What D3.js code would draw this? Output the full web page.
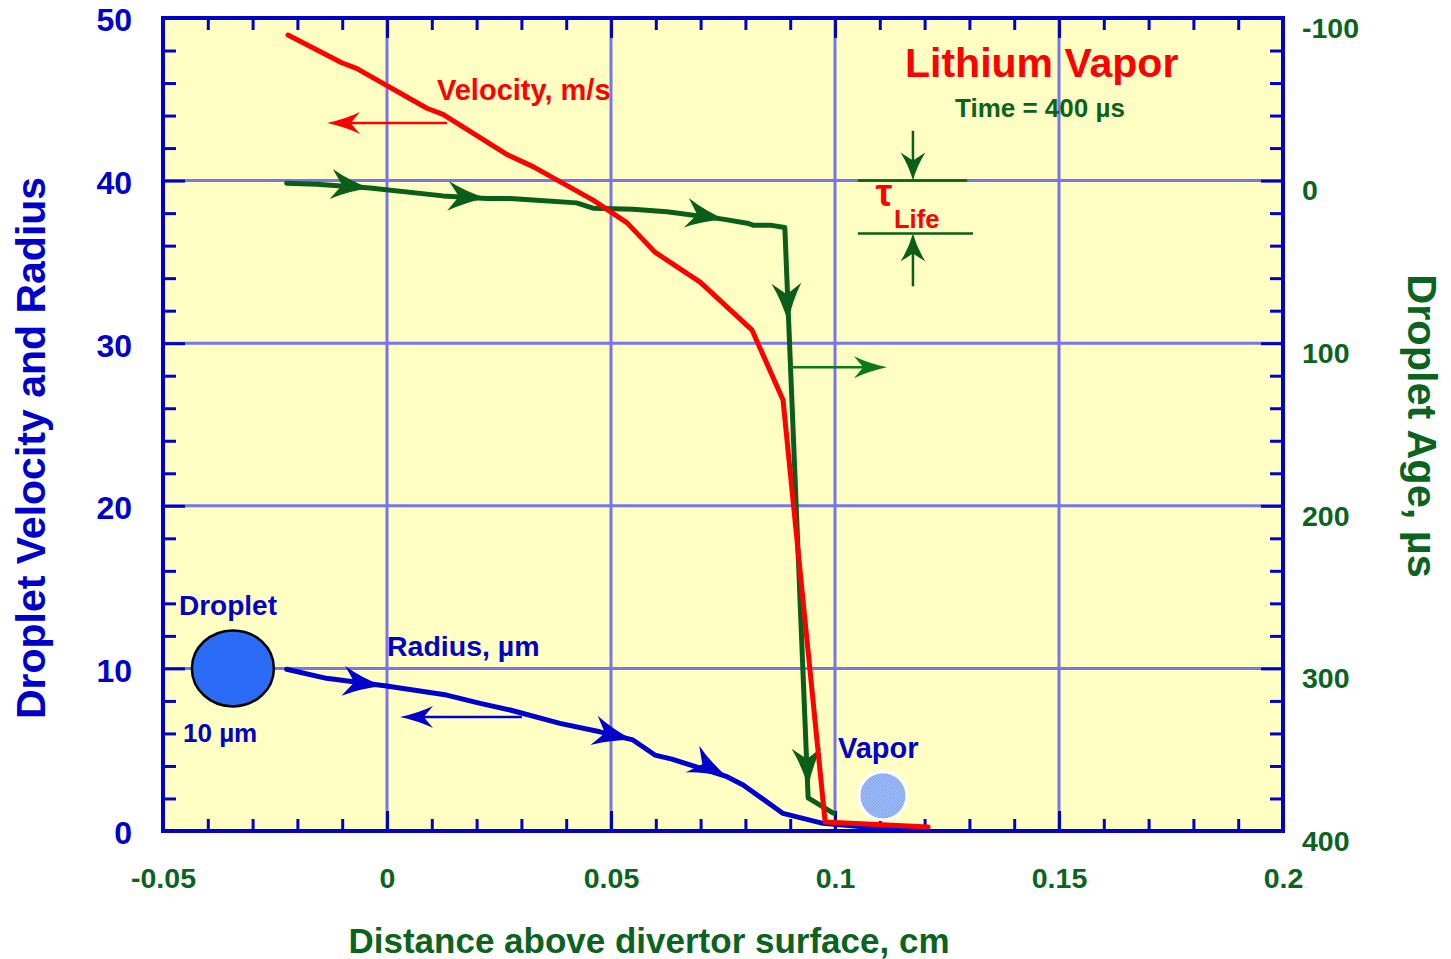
<!DOCTYPE html>
<html>
<head>
<meta charset="utf-8">
<script src="https://cdn.jsdelivr.net/npm/d3@7"></script>
<style>
  html, body { margin: 0; padding: 0; background: #ffffff; }
  svg { display: block; }
  text { font-family: "Liberation Sans", Arial, Helvetica, sans-serif; font-weight: bold; }
</style>
</head>
<body>
<svg id="chart" width="1451" height="959"></svg>
<script>
// ---------------- DATA ----------------
const xTickValues = [-0.05, 0, 0.05, 0.1, 0.15, 0.2];
const xTickLabels = ["-0.05", "0", "0.05", "0.1", "0.15", "0.2"];
const leftTickValues = [0, 10, 20, 30, 40, 50];
const rightTickValues = [-100, 0, 100, 200, 300, 400];

// Velocity, m/s (left axis)
const velX = [-0.0221, -0.0101, -0.0068, 0.0089, 0.0125, 0.027, 0.0326, 0.046, 0.0536, 0.0598, 0.0699, 0.0815, 0.0884, 0.0978, 0.1208];
const velY = [48.95, 47.25, 46.9, 44.45, 44.07, 41.57, 40.86, 38.8, 37.4, 35.6, 33.76, 30.8, 26.5, 0.55, 0.25];

// Droplet age, µs (right axis)
const ageX = [-0.0224, -0.0157, -0.0038, 0.0125, 0.0223, 0.0275, 0.0326, 0.0423, 0.046, 0.0549, 0.0625, 0.075, 0.0804, 0.0817, 0.0855, 0.0888, 0.094, 0.0996];
const ageY = [1.6, 2.2, 4.5, 9.4, 11, 11, 12, 13.7, 17, 17.6, 19.2, 23.7, 26.2, 27.4, 27.4, 28.9, 379.6, 389];

// Radius, µm (left axis)
const radX = [-0.0224, -0.0135, -0.0001, 0.0133, 0.0208, 0.0275, 0.0386, 0.0475, 0.0549, 0.0598, 0.0636, 0.0759, 0.0795, 0.0884, 0.0973, 0.11, 0.119];
const radY = [9.95, 9.39, 8.92, 8.36, 7.85, 7.44, 6.62, 6.1, 5.6, 4.67, 4.42, 3.34, 2.83, 1.08, 0.47, 0.17, 0.1];

// direction arrows placed on the curves (tip positions, data units)
const ageArrowX = [-0.0038, 0.0223, 0.0754, 0.0895, 0.094];
const ageArrowY = [4.7, 10.8, 23.7, 87.1, 373];
const radArrowX = [-0.0009, 0.0549, 0.0761];
const radArrowY = [8.92, 5.6, 3.3];

// ---------------- SETUP ----------------
const svg = d3.select("#chart");
const L = 163, R = 1283, T = 18, B = 831;
const x = d3.scaleLinear().domain([-0.05, 0.2]).range([L, R]);
const y = d3.scaleLinear().domain([0, 50]).range([B, T]);
const y2 = d3.scaleLinear().domain([-100, 400]).range([T, B]);

const AXIS_BLUE = "#0000cc";
const GRID = "#7676ee";
const RED = "#ff0000";
const DKGREEN = "#0a5e1a";
const TXTGREEN = "#0b6320";
const BLUE = "#0000cc";

const defs = svg.append("defs");
const pat = defs.append("pattern").attr("id", "vaporPat").attr("width", 3).attr("height", 3)
  .attr("patternUnits", "userSpaceOnUse");
pat.append("rect").attr("width", 3).attr("height", 3).attr("fill", "#7ea3f2");
pat.append("rect").attr("width", 1.5).attr("height", 1.5).attr("fill", "#a8c2f8");
pat.append("rect").attr("x", 1.5).attr("y", 1.5).attr("width", 1.5).attr("height", 1.5).attr("fill", "#a8c2f8");

// plot background
svg.append("rect").attr("x", L).attr("y", T).attr("width", R - L).attr("height", B - T).attr("fill", "#ffffc3");

// grid
const grid = svg.append("g");
grid.selectAll("line.vx").data(xTickValues.slice(1, -1)).join("line")
  .attr("x1", d => x(d)).attr("x2", d => x(d)).attr("y1", T).attr("y2", B)
  .attr("stroke", GRID).attr("stroke-width", 3);
grid.selectAll("line.hy").data(leftTickValues.slice(1, -1)).join("line")
  .attr("x1", L).attr("x2", R).attr("y1", d => y(d)).attr("y2", d => y(d))
  .attr("stroke", GRID).attr("stroke-width", 3);

// axes helpers
function minorVals(ticks, n) {
  const out = [];
  for (let i = 0; i < ticks.length - 1; i++) {
    const a = ticks[i], b = ticks[i + 1];
    for (let k = 1; k < n; k++) out.push(a + (b - a) * k / n);
  }
  return out;
}
function styleAxis(g) {
  g.select(".domain").remove();
  g.selectAll(".tick line").attr("stroke", AXIS_BLUE).attr("stroke-width", 3);
}

// bottom
svg.append("g").attr("transform", `translate(0,${B})`)
  .call(d3.axisBottom(x).tickValues(minorVals(xTickValues, 5)).tickSize(-12).tickFormat(""))
  .call(styleAxis);
svg.append("g").attr("transform", `translate(0,${B})`)
  .call(d3.axisBottom(x).tickValues(xTickValues).tickSize(-20).tickPadding(37)
    .tickFormat((d, i) => xTickLabels[i]))
  .call(styleAxis)
  .call(g => g.selectAll("text").attr("fill", TXTGREEN).attr("font-size", 28.5));
// top
svg.append("g").attr("transform", `translate(0,${T})`)
  .call(d3.axisTop(x).tickValues(minorVals(xTickValues, 5)).tickSize(-12).tickFormat(""))
  .call(styleAxis);
svg.append("g").attr("transform", `translate(0,${T})`)
  .call(d3.axisTop(x).tickValues(xTickValues).tickSize(-20).tickFormat(""))
  .call(styleAxis);
// left
svg.append("g").attr("transform", `translate(${L},0)`)
  .call(d3.axisLeft(y).tickValues(minorVals(leftTickValues, 5)).tickSize(-13).tickFormat(""))
  .call(styleAxis);
svg.append("g").attr("transform", `translate(${L},0)`)
  .call(d3.axisLeft(y).tickValues(leftTickValues).tickSize(-22).tickPadding(31).tickFormat(d => String(d)))
  .call(styleAxis)
  .call(g => g.selectAll("text").attr("fill", BLUE).attr("font-size", 32).attr("dy", "0.4em"));
// right
svg.append("g").attr("transform", `translate(${R},0)`)
  .call(d3.axisRight(y2).tickValues(minorVals(rightTickValues, 5)).tickSize(-13).tickFormat(""))
  .call(styleAxis);
svg.append("g").attr("transform", `translate(${R},0)`)
  .call(d3.axisRight(y2).tickValues(rightTickValues).tickSize(-22).tickPadding(19).tickFormat(d => String(d)))
  .call(styleAxis)
  .call(g => g.selectAll("text").attr("fill", TXTGREEN).attr("font-size", 28.5).attr("dy", "0.68em"));

// frame
svg.append("rect").attr("x", L).attr("y", T).attr("width", R - L).attr("height", B - T)
  .attr("fill", "none").attr("stroke", AXIS_BLUE).attr("stroke-width", 4);

// axis titles
svg.append("text").attr("transform", `translate(45,448) rotate(-90)`).attr("text-anchor", "middle")
  .attr("fill", BLUE).attr("font-size", 41).text("Droplet Velocity and Radius");
svg.append("text").attr("transform", `translate(1408,426) rotate(90)`).attr("text-anchor", "middle")
  .attr("fill", TXTGREEN).attr("font-size", 41.5).text("Droplet Age, µs");
svg.append("text").attr("x", 649).attr("y", 953).attr("text-anchor", "middle")
  .attr("fill", TXTGREEN).attr("font-size", 35).text("Distance above divertor surface, cm");

// ---------------- SERIES ----------------
const velData = velX.map((v, i) => [v, velY[i]]);
const ageData = ageX.map((v, i) => [v, ageY[i]]);
const radData = radX.map((v, i) => [v, radY[i]]);

const lineL = d3.line().x(d => x(d[0])).y(d => y(d[1]));
const lineR = d3.line().x(d => x(d[0])).y(d => y2(d[1]));

function arrowPath(tip, dir, len, hw, notchFrac) {
  const n = [-dir[1], dir[0]];
  const back = [tip[0] - dir[0] * len, tip[1] - dir[1] * len];
  const notch = [tip[0] - dir[0] * len * notchFrac, tip[1] - dir[1] * len * notchFrac];
  const p1 = [back[0] + n[0] * hw, back[1] + n[1] * hw];
  const p2 = [back[0] - n[0] * hw, back[1] - n[1] * hw];
  // slightly concave flanks
  const c1 = [tip[0] - dir[0] * len * 0.55 + n[0] * hw * 0.35, tip[1] - dir[1] * len * 0.55 + n[1] * hw * 0.35];
  const c2 = [tip[0] - dir[0] * len * 0.55 - n[0] * hw * 0.35, tip[1] - dir[1] * len * 0.55 - n[1] * hw * 0.35];
  return `M${tip[0]},${tip[1]}Q${c1[0]},${c1[1]} ${p1[0]},${p1[1]}L${notch[0]},${notch[1]}L${p2[0]},${p2[1]}Q${c2[0]},${c2[1]} ${tip[0]},${tip[1]}Z`;
}
function dirOnCurve(pts, p) {
  let best = null, bd = Infinity;
  for (let i = 0; i < pts.length - 1; i++) {
    const a = pts[i], b = pts[i + 1];
    const vx = b[0] - a[0], vy = b[1] - a[1];
    const l2 = vx * vx + vy * vy;
    let t = ((p[0] - a[0]) * vx + (p[1] - a[1]) * vy) / l2;
    t = Math.max(0, Math.min(1, t));
    const qx = a[0] + t * vx, qy = a[1] + t * vy;
    const d = (qx - p[0]) ** 2 + (qy - p[1]) ** 2;
    if (d < bd) { bd = d; const l = Math.sqrt(l2); best = [vx / l, vy / l]; }
  }
  return best;
}

// radius (blue)
svg.append("path").attr("d", lineL(radData)).attr("fill", "none").attr("stroke", BLUE)
  .attr("stroke-width", 5).attr("stroke-linejoin", "round").attr("stroke-linecap", "round");
const radPx = radData.map(d => [x(d[0]), y(d[1])]);
svg.selectAll("path.radArrow").data(radArrowX).join("path")
  .attr("d", (d, i) => { const tip = [x(d), y(radArrowY[i])]; return arrowPath(tip, dirOnCurve(radPx, tip), 40, 15, 0.72); })
  .attr("fill", BLUE);

// age (green)
svg.append("path").attr("d", lineR(ageData)).attr("fill", "none").attr("stroke", DKGREEN)
  .attr("stroke-width", 5).attr("stroke-linejoin", "round").attr("stroke-linecap", "round");
const agePx = ageData.map(d => [x(d[0]), y2(d[1])]);
svg.selectAll("path.ageArrow").data(ageArrowX).join("path")
  .attr("d", (d, i) => { const tip = [x(d), y2(ageArrowY[i])]; return arrowPath(tip, dirOnCurve(agePx, tip), 39, 15, 0.72); })
  .attr("fill", DKGREEN);

// velocity (red)
svg.append("path").attr("d", lineL(velData)).attr("fill", "none").attr("stroke", RED)
  .attr("stroke-width", 5).attr("stroke-linejoin", "round").attr("stroke-linecap", "round");

// ---------------- ANNOTATIONS ----------------
function pointer(x1, y1, x2, y2, color, w, len, hw) {
  svg.append("line").attr("x1", x1).attr("y1", y1).attr("x2", x2 - Math.sign(x2 - x1) * len * 0.5).attr("y2", y2 - Math.sign(y2 - y1) * len * 0.5)
    .attr("stroke", color).attr("stroke-width", w);
  const dx = x2 - x1, dy = y2 - y1, l = Math.hypot(dx, dy);
  svg.append("path").attr("d", arrowPath([x2, y2], [dx / l, dy / l], len, hw, 0.72)).attr("fill", color);
}
// Velocity pointer (to left axis)
pointer(x(0.0134), y(43.54), x(-0.0134), y(43.54), RED, 2.5, 33, 11);
// Radius pointer
pointer(x(0.0301), y(7.01), x(0.0029), y(7.01), BLUE, 2.5, 33, 11);
// Age pointer (to right axis)
pointer(x(0.09), y2(114.8), x(0.1116), y2(114.8), "#0a7a1a", 2.5, 33, 11);

// tau life
svg.append("line").attr("x1", x(0.1051)).attr("x2", x(0.1295)).attr("y1", y2(0)).attr("y2", y2(0))
  .attr("stroke", DKGREEN).attr("stroke-width", 2.5);
svg.append("line").attr("x1", x(0.1051)).attr("x2", x(0.1308)).attr("y1", y2(32.5)).attr("y2", y2(32.5))
  .attr("stroke", DKGREEN).attr("stroke-width", 2.5);
pointer(x(0.1174), y2(-30.6), x(0.1174), y2(0), DKGREEN, 2.5, 28, 12.5);
pointer(x(0.1174), y2(65), x(0.1174), y2(32.5), DKGREEN, 2.5, 28, 12.5);
svg.append("text").attr("x", 884).attr("y", 206).attr("text-anchor", "middle").attr("fill", RED)
  .attr("font-size", 38).attr("font-weight", "normal").attr("font-family", "DejaVu Serif").text("τ");
svg.append("text").attr("x", 894).attr("y", 228).attr("fill", RED).attr("font-size", 25.5).text("Life");

// labels
svg.append("text").attr("x", 905).attr("y", 77).attr("fill", RED).attr("font-size", 41).text("Lithium Vapor");
svg.append("text").attr("x", 955).attr("y", 117).attr("fill", TXTGREEN).attr("font-size", 26).text("Time = 400 µs");
svg.append("text").attr("x", 437).attr("y", 100).attr("fill", RED).attr("font-size", 29).text("Velocity, m/s");
svg.append("text").attr("x", 387).attr("y", 656).attr("fill", BLUE).attr("font-size", 28.5).text("Radius, µm");
svg.append("text").attr("x", 179).attr("y", 615).attr("fill", BLUE).attr("font-size", 28).text("Droplet");
svg.append("text").attr("x", 183).attr("y", 742).attr("fill", BLUE).attr("font-size", 26).text("10 µm");
svg.append("text").attr("x", 838).attr("y", 758).attr("fill", BLUE).attr("font-size", 29).text("Vapor");

// droplet & vapor symbols
svg.append("ellipse").attr("cx", x(-0.0344)).attr("cy", y(10)).attr("rx", 41).attr("ry", 38)
  .attr("fill", "#2a6cf6").attr("stroke", "#000").attr("stroke-width", 2.5);
svg.append("circle").attr("cx", x(0.1107)).attr("cy", y(2.17)).attr("r", 24)
  .attr("fill", "url(#vaporPat)").attr("stroke", "#ffffff").attr("stroke-width", 3);
</script>
</body>
</html>
